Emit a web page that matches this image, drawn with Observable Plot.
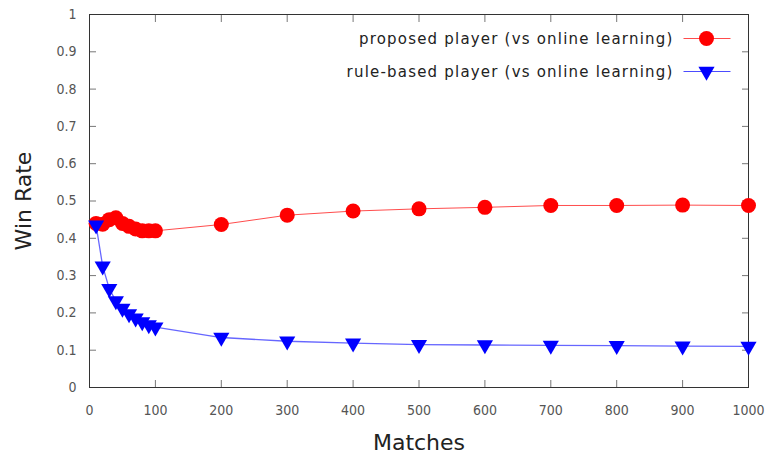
<!DOCTYPE html>
<html>
<head>
<meta charset="utf-8">
<script src="https://cdn.jsdelivr.net/npm/d3@7"></script>
<script src="https://cdn.jsdelivr.net/npm/@observablehq/plot@0.6"></script>
<style>
  html, body { margin: 0; padding: 0; background: #fff; }
  #chart svg { display: block; }
</style>
</head>
<body>
<div id="chart"></div>
<script>
// Win rate against an online-learning opponent, by number of matches played
const matches = [10, 20, 30, 40, 50, 60, 70, 80, 90, 100, 200, 300, 400, 500, 600, 700, 800, 900, 1000];
const proposedRate = [0.440, 0.438, 0.450, 0.455, 0.440, 0.432, 0.425, 0.420, 0.420, 0.420, 0.437, 0.462, 0.473, 0.479, 0.483, 0.488, 0.488, 0.489, 0.488];
const ruleBasedRate = [0.435, 0.325, 0.265, 0.232, 0.212, 0.197, 0.186, 0.176, 0.168, 0.162, 0.134, 0.124, 0.119, 0.115, 0.114, 0.113, 0.112, 0.111, 0.110];

const seriesNames = ["proposed player (vs online learning)", "rule-based player (vs online learning)"];
const seriesColors = ["#ff0000", "#0000ff"];
const seriesSymbols = ["circle", "triangle"];

const xTicks = [0, 100, 200, 300, 400, 500, 600, 700, 800, 900, 1000];
const yTicks = [0, 0.1, 0.2, 0.3, 0.4, 0.5, 0.6, 0.7, 0.8, 0.9, 1];

const proposed = matches.map((m, i) => ({matches: m, rate: proposedRate[i]}));
const ruleBased = matches.map((m, i) => ({matches: m, rate: ruleBasedRate[i]}));

const tickFont = "'DejaVu Sans Condensed', 'DejaVu Sans', sans-serif";
const titleFont = "'DejaVu Sans', sans-serif";

// short horizontal stroke drawn as the legend's line sample
const legendStroke = {draw(ctx) { ctx.moveTo(-23, 0); ctx.lineTo(24, 0); }};

// one legend row: label, line sample and marker, anchored to the top-right corner
function legendRow(i) {
  const rowY = 24 + i * 33;
  return [
    Plot.text([seriesNames[i]], {frameAnchor: "top-right", dx: -75, dy: rowY + 1, textAnchor: "end", lineAnchor: "middle",
      fontSize: 15, fontFamily: titleFont, fill: "#222", text: d => d}),
    Plot.dot([seriesNames[i]], {frameAnchor: "top-right", dx: -42, dy: rowY, symbol: legendStroke,
      stroke: seriesColors[i], strokeWidth: 1, strokeOpacity: 0.7}),
    Plot.dot([seriesNames[i]], {frameAnchor: "top-right", dx: -42, dy: rowY, symbol: seriesSymbols[i],
      r: i === 0 ? 7.5 : 6, rotate: i === 0 ? 0 : 180, fill: seriesColors[i]})
  ];
}

const chart = Plot.plot({
  width: 770,
  height: 456,
  marginLeft: 89,
  marginRight: 22,
  marginTop: 14,
  marginBottom: 69,
  style: {fontFamily: tickFont, background: "#fff"},
  x: {domain: [0, 1000]},
  y: {domain: [0, 1]},
  marks: [
    // inward ticks on all four sides
    Plot.axisY(yTicks, {anchor: "left", tickSize: 7, dx: 7, text: null, label: null, stroke: "#777"}),
    Plot.axisY(yTicks, {anchor: "right", tickSize: 7, dx: -7, text: null, label: null, stroke: "#777"}),
    Plot.axisX(xTicks, {anchor: "bottom", tickSize: 7, dy: -7, text: null, label: null, stroke: "#777"}),
    Plot.axisX(xTicks, {anchor: "top", tickSize: 7, dy: 7, text: null, label: null, stroke: "#777"}),
    // tick labels
    Plot.axisY(yTicks, {anchor: "left", tickSize: 0, tickPadding: 13, fontSize: 14, fill: "#555",
      label: null, tickFormat: d3.format("")}),
    Plot.axisX(xTicks, {anchor: "bottom", tickSize: 0, tickPadding: 18, fontSize: 14, fill: "#555",
      label: null, tickFormat: d3.format("d")}),
    Plot.frame({stroke: "#333", strokeWidth: 1}),
    // series
    Plot.line(proposed, {x: "matches", y: "rate", stroke: seriesColors[0], strokeWidth: 1, strokeOpacity: 0.7}),
    Plot.dot(proposed, {x: "matches", y: "rate", fill: seriesColors[0], r: 7.5, symbol: seriesSymbols[0]}),
    Plot.line(ruleBased, {x: "matches", y: "rate", stroke: seriesColors[1], strokeWidth: 1.3, strokeOpacity: 0.6}),
    Plot.dot(ruleBased, {x: "matches", y: "rate", fill: seriesColors[1], r: 6, symbol: seriesSymbols[1], rotate: 180}),
    // axis titles
    Plot.text(["Matches"], {frameAnchor: "bottom", dy: 55, lineAnchor: "middle", textAnchor: "middle",
      fontSize: 22, fontFamily: titleFont, fill: "#222", text: d => d}),
    Plot.text(["Win Rate"], {frameAnchor: "left", dx: -66, rotate: -90, textAnchor: "middle", lineAnchor: "middle",
      fontSize: 22, fontFamily: titleFont, fill: "#222", text: d => d}),
    // legend
    ...legendRow(0),
    ...legendRow(1)
  ]
});

document.getElementById("chart").append(chart);

// the legend labels are set spaced out
d3.select(chart).selectAll("text")
  .filter(function() { return seriesNames.includes(this.textContent); })
  .attr("letter-spacing", "1.2px");
</script>
</body>
</html>
